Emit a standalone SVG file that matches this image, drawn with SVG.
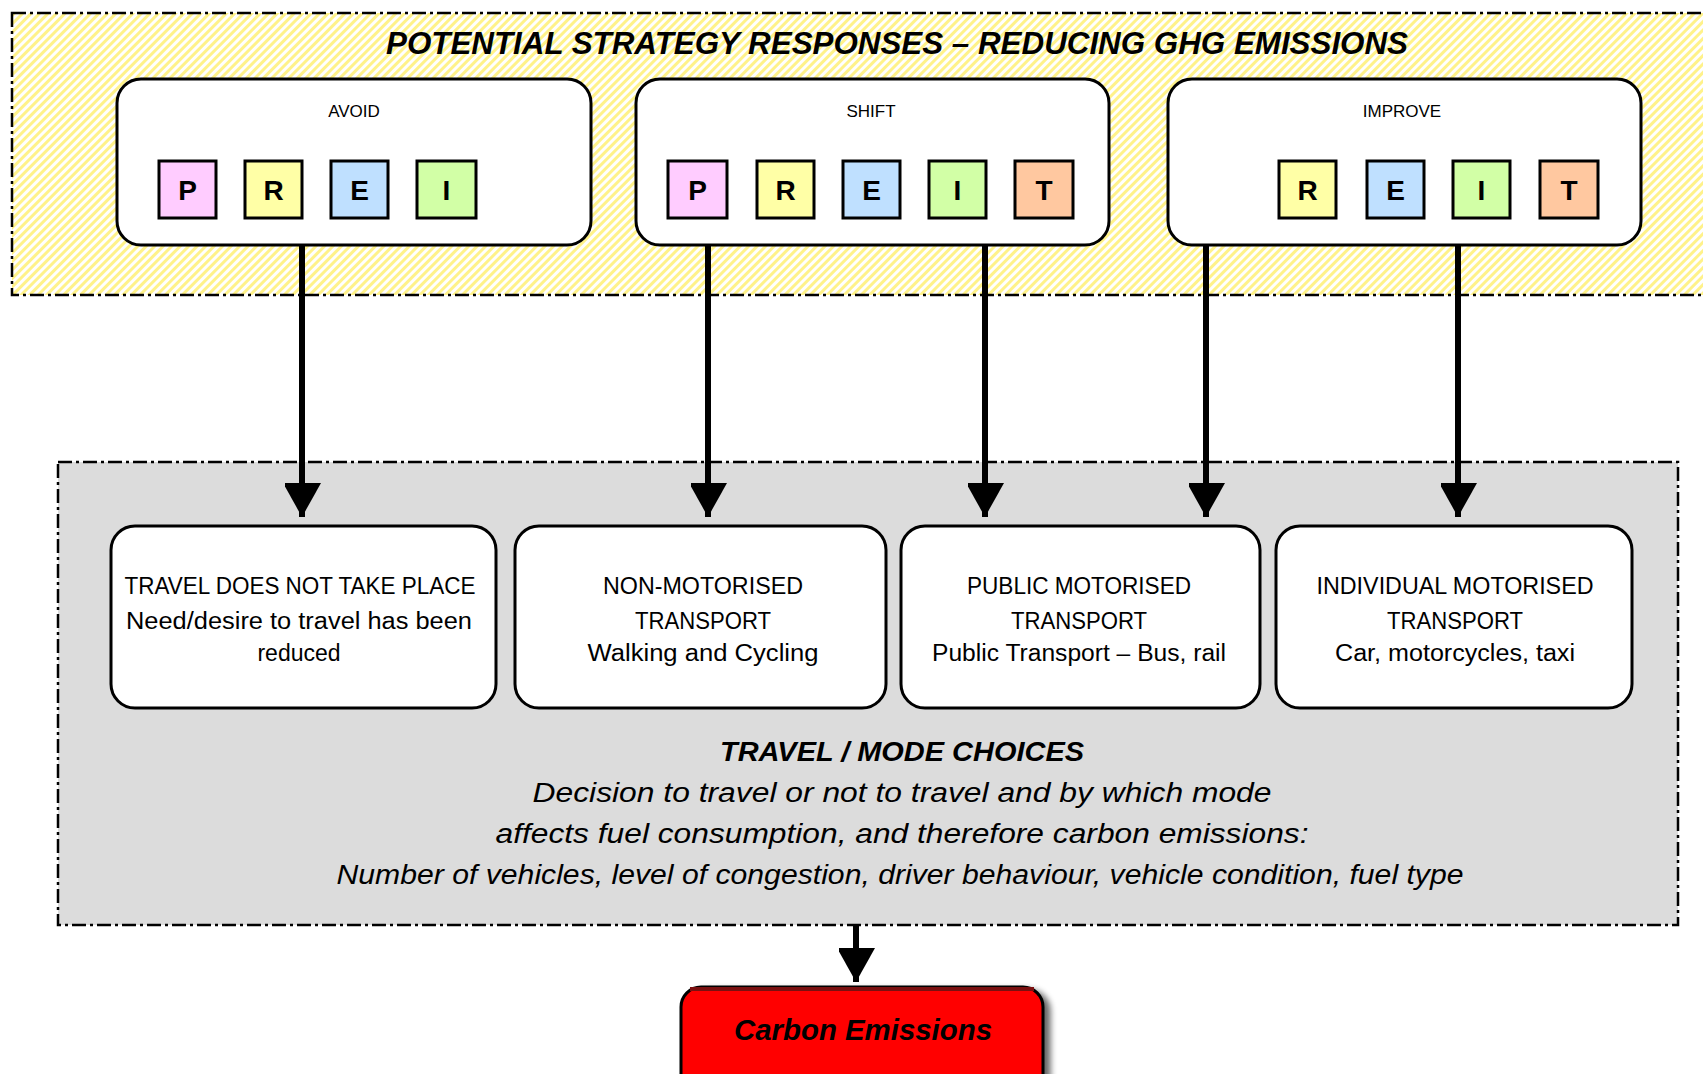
<svg xmlns="http://www.w3.org/2000/svg" width="1703" height="1074" viewBox="0 0 1703 1074">
<defs>
<pattern id="hatch" patternUnits="userSpaceOnUse" width="6" height="6" patternTransform="rotate(45)">
<rect width="6" height="6" fill="#ffffff"/>
<rect width="3" height="6" fill="#fff28a"/>
</pattern>
<marker id="ah" markerUnits="userSpaceOnUse" markerWidth="40" markerHeight="36" refX="34" refY="19" orient="auto">
<path d="M0,0 L34,19 L0,38 Z" fill="#000"/>
</marker>
<filter id="sh" x="-10%" y="-10%" width="130%" height="140%">
<feGaussianBlur in="SourceAlpha" stdDeviation="3"/>
<feOffset dx="6" dy="4"/>
<feComponentTransfer><feFuncA type="linear" slope="0.6"/></feComponentTransfer>
<feMerge><feMergeNode/><feMergeNode in="SourceGraphic"/></feMerge>
</filter>
</defs>
<style>
.region{stroke:#000;stroke-width:2.5;stroke-dasharray:14 4 3 4}
.box{fill:#fff;stroke:#000;stroke-width:3}
.sq{stroke:#000;stroke-width:3}
.lbl{font-family:"Liberation Sans",Arial,sans-serif;font-size:17px;text-anchor:middle;fill:#000}
.let{font-family:"Liberation Sans",Arial,sans-serif;font-size:28px;font-weight:bold;text-anchor:middle;fill:#000}
.bt{font-family:"Liberation Sans",Arial,sans-serif;font-size:23px;text-anchor:middle;fill:#000}
.it{font-family:"Liberation Sans",Arial,sans-serif;font-size:27px;font-style:italic;text-anchor:middle;fill:#000}
.ttl{font-family:"Liberation Sans",Arial,sans-serif;font-size:31px;font-style:italic;font-weight:bold;text-anchor:middle;fill:#000}
.conn{stroke:#000;stroke-width:6;fill:none;marker-end:url(#ah)}
</style>
<rect width="1703" height="1074" fill="#fff"/>

<g id="strategy-region">
<rect x="12" y="13" width="1700" height="282" fill="url(#hatch)" class="region"/>
<text class="ttl" x="897" y="54" textLength="1022" lengthAdjust="spacingAndGlyphs">POTENTIAL STRATEGY RESPONSES – REDUCING GHG EMISSIONS</text>
</g>

<g id="travel-region">
<rect x="58" y="462" width="1620" height="463" fill="#dcdcdc" class="region"/>
<text class="it" x="902" y="761" font-weight="bold" textLength="364" lengthAdjust="spacingAndGlyphs">TRAVEL / MODE CHOICES</text>
<text class="it" x="902" y="802" textLength="739" lengthAdjust="spacingAndGlyphs">Decision to travel or not to travel and by which mode</text>
<text class="it" x="902" y="843" textLength="813" lengthAdjust="spacingAndGlyphs">affects fuel consumption, and therefore carbon emissions:</text>
<text class="it" x="900" y="884" textLength="1127" lengthAdjust="spacingAndGlyphs">Number of vehicles, level of congestion, driver behaviour, vehicle condition, fuel type</text>
</g>

<g id="avoid">
<rect class="box" x="117" y="79" width="474" height="166" rx="24"/>
<text class="lbl" x="354" y="117">AVOID</text>
<rect class="sq" x="159" y="161" width="57" height="57" fill="#ffccff"/><text class="let" x="187.5" y="200">P</text>
<rect class="sq" x="245" y="161" width="57" height="57" fill="#ffffa6"/><text class="let" x="273.5" y="200">R</text>
<rect class="sq" x="331" y="161" width="57" height="57" fill="#bfe0ff"/><text class="let" x="359.5" y="200">E</text>
<rect class="sq" x="417" y="161" width="59" height="57" fill="#d2ffa6"/><text class="let" x="446.5" y="200">I</text>
</g>

<g id="shift">
<rect class="box" x="636" y="79" width="473" height="166" rx="24"/>
<text class="lbl" x="871" y="117">SHIFT</text>
<rect class="sq" x="668" y="161" width="59" height="57" fill="#ffccff"/><text class="let" x="697.5" y="200">P</text>
<rect class="sq" x="757" y="161" width="57" height="57" fill="#ffffa6"/><text class="let" x="785.5" y="200">R</text>
<rect class="sq" x="843" y="161" width="57" height="57" fill="#bfe0ff"/><text class="let" x="871.5" y="200">E</text>
<rect class="sq" x="929" y="161" width="57" height="57" fill="#d2ffa6"/><text class="let" x="957.5" y="200">I</text>
<rect class="sq" x="1015" y="161" width="58" height="57" fill="#ffc8a0"/><text class="let" x="1044" y="200">T</text>
</g>

<g id="improve">
<rect class="box" x="1168" y="79" width="473" height="166" rx="24"/>
<text class="lbl" x="1402" y="117">IMPROVE</text>
<rect class="sq" x="1279" y="161" width="57" height="57" fill="#ffffa6"/><text class="let" x="1307.5" y="200">R</text>
<rect class="sq" x="1367" y="161" width="57" height="57" fill="#bfe0ff"/><text class="let" x="1395.5" y="200">E</text>
<rect class="sq" x="1453" y="161" width="57" height="57" fill="#d2ffa6"/><text class="let" x="1481.5" y="200">I</text>
<rect class="sq" x="1540" y="161" width="58" height="57" fill="#ffc8a0"/><text class="let" x="1569" y="200">T</text>
</g>

<g id="no-travel">
<rect class="box" x="111" y="526" width="385" height="182" rx="24"/>
<text class="bt" x="300" y="594" textLength="351" lengthAdjust="spacingAndGlyphs">TRAVEL DOES NOT TAKE PLACE</text>
<text class="bt" x="299" y="629" textLength="346" lengthAdjust="spacingAndGlyphs">Need/desire to travel has been</text>
<text class="bt" x="299" y="661">reduced</text>
</g>

<g id="non-motorised">
<rect class="box" x="515" y="526" width="371" height="182" rx="24"/>
<text class="bt" x="703" y="594" textLength="200" lengthAdjust="spacingAndGlyphs">NON-MOTORISED</text>
<text class="bt" x="703" y="629" textLength="136" lengthAdjust="spacingAndGlyphs">TRANSPORT</text>
<text class="bt" x="703" y="661" textLength="231" lengthAdjust="spacingAndGlyphs">Walking and Cycling</text>
</g>

<g id="public-motorised">
<rect class="box" x="901" y="526" width="359" height="182" rx="24"/>
<text class="bt" x="1079" y="594" textLength="224" lengthAdjust="spacingAndGlyphs">PUBLIC MOTORISED</text>
<text class="bt" x="1079" y="629" textLength="136" lengthAdjust="spacingAndGlyphs">TRANSPORT</text>
<text class="bt" x="1079" y="661" textLength="294" lengthAdjust="spacingAndGlyphs">Public Transport – Bus, rail</text>
</g>

<g id="individual-motorised">
<rect class="box" x="1276" y="526" width="356" height="182" rx="24"/>
<text class="bt" x="1455" y="594" textLength="277" lengthAdjust="spacingAndGlyphs">INDIVIDUAL MOTORISED</text>
<text class="bt" x="1455" y="629" textLength="136" lengthAdjust="spacingAndGlyphs">TRANSPORT</text>
<text class="bt" x="1455" y="661" textLength="240" lengthAdjust="spacingAndGlyphs">Car, motorcycles, taxi</text>
</g>

<g id="carbon-emissions">
<rect x="681" y="987" width="362" height="110" rx="20" fill="#ff0000" stroke="#000" stroke-width="3" filter="url(#sh)"/>
<path d="M690,989 L1034,989" stroke="#7a1010" stroke-width="4"/>
<text x="863" y="1040" font-family="'Liberation Sans',Arial,sans-serif" font-size="29" font-weight="bold" font-style="italic" text-anchor="middle" textLength="258" lengthAdjust="spacingAndGlyphs">Carbon Emissions</text>
</g>

<g id="connectors">
<line class="conn" x1="302" y1="245" x2="302" y2="517"/>
<line class="conn" x1="708" y1="245" x2="708" y2="517"/>
<line class="conn" x1="985" y1="245" x2="985" y2="517"/>
<line class="conn" x1="1206" y1="245" x2="1206" y2="517"/>
<line class="conn" x1="1458" y1="245" x2="1458" y2="517"/>
<line class="conn" x1="856" y1="925" x2="856" y2="982"/>
</g>
</svg>
